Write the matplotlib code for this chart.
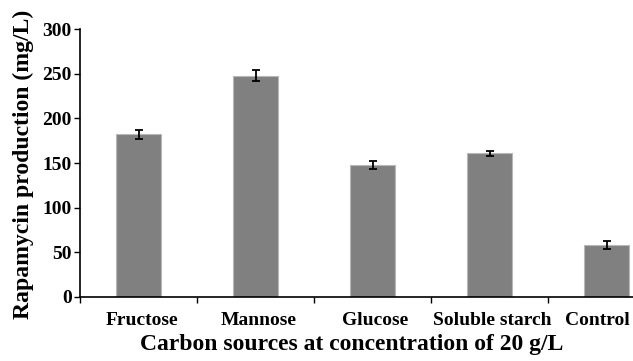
import numpy as np
import matplotlib.pyplot as plt
from matplotlib.transforms import ScaledTranslation

# Datos
fuentes = ["Fructose", "Mannose", "Glucose", "Soluble starch", "Control"]
produccion = [182, 248, 148, 161, 58]
error = [5, 6.5, 4.7, 3, 4.7]
ticks_y = [0, 50, 100, 150, 200, 250, 300]

plt.rcParams['font.family'] = ['Liberation Serif', 'DejaVu Serif']
plt.rcParams['font.weight'] = 'bold'

fig = plt.figure(figsize=(6.33, 3.61), dpi=100)
# el eje se extiende más allá del borde derecho (imagen recortada)
ax = fig.add_axes([80 / 633, 64.3 / 361, 585 / 633, 267.4 / 361])

x = np.arange(len(fuentes))
ax.bar(x, produccion, width=0.39, color='#808080', edgecolor='#b8b8b8', linewidth=0.8,
       yerr=error, capsize=3, error_kw=dict(ecolor='black', elinewidth=1.3, capthick=1.3))

ax.set_xlim(-0.5, len(fuentes) - 0.5)
ax.set_ylim(0, 300)
ax.set_yticks(ticks_y)
ax.set_yticklabels([str(t) for t in ticks_y], fontsize=14, fontweight='bold')

# marcas en los límites entre categorías, etiquetas en el centro
ax.set_xticks(np.arange(len(fuentes) + 1) - 0.5)
ax.set_xticklabels([])
ax.set_xticks(x, minor=True)
etiquetas = ax.set_xticklabels(fuentes, minor=True, fontsize=14, fontweight='bold')
ax.tick_params(axis='x', which='minor', length=0, pad=11)
ax.tick_params(axis='x', which='major', length=4, width=1, direction='out')
ax.tick_params(axis='y', length=4, width=1, direction='out', pad=2)

# pequeño desplazamiento horizontal de las etiquetas (Control queda dentro del borde)
desplazamientos = [3, 3, 3, 3, -9]
for etiqueta, dx in zip(etiquetas, desplazamientos):
    etiqueta.set_transform(etiqueta.get_transform() + ScaledTranslation(dx / 100, 0, fig.dpi_scale_trans))

for lado in ['top', 'right']:
    ax.spines[lado].set_visible(False)
for lado in ['left', 'bottom']:
    ax.spines[lado].set_linewidth(1.2)

ax.set_ylabel("Rapamycin production (mg/L)", fontsize=17, fontweight='bold')
ax.yaxis.label.set_va('center')
ax.yaxis.set_label_coords((23 - 80) / 585, 0.496)

ax.set_xlabel("Carbon sources at concentration of 20 g/L", fontsize=17, fontweight='bold')
ax.xaxis.label.set_va('center')
ax.xaxis.set_label_coords((352 - 80) / 585, -0.18)

fig.savefig("out.png", dpi=100)
